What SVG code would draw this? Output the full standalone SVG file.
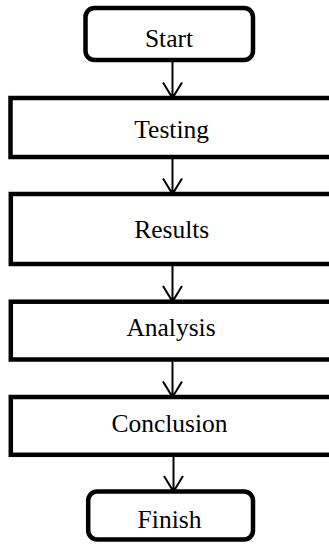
<svg xmlns="http://www.w3.org/2000/svg" width="329" height="546" viewBox="0 0 329 546">
<style>
.box{fill:#fff;stroke:#000;stroke-width:4.5}
.lbl{font-family:"Liberation Serif","Times New Roman",serif;font-size:25.5px;fill:#000;text-anchor:middle}
.conn{fill:none;stroke:#000;stroke-width:2}
</style>
<rect width="329" height="546" fill="#fff"/>
<g id="connectors">
<path class="conn" d="M172.5 62V98M163 82.5L172.5 98L182 82.5"/>
<path class="conn" d="M172.5 159V194M163 178.5L172.5 194L182 178.5"/>
<path class="conn" d="M172.5 266V301.5M163 286L172.5 301.5L182 286"/>
<path class="conn" d="M172.5 361.5V397M163 381.5L172.5 397L182 381.5"/>
<path class="conn" d="M173.5 457V491.5M164 476L173.5 491.5L183 476"/>
</g>
<g id="start">
<rect class="box" x="85.5" y="8" width="167.5" height="52" rx="9"/>
<text class="lbl" x="169" y="46.5">Start</text>
</g>
<g id="testing">
<rect class="box" x="10.5" y="98" width="330" height="59"/>
<text class="lbl" x="171.7" y="137.7">Testing</text>
</g>
<g id="results">
<rect class="box" x="10.8" y="194" width="330" height="70"/>
<text class="lbl" x="171.7" y="238.3">Results</text>
</g>
<g id="analysis">
<rect class="box" x="10.8" y="301.7" width="330" height="57.8"/>
<text class="lbl" x="171" y="335.7">Analysis</text>
</g>
<g id="conclusion">
<rect class="box" x="10.8" y="397" width="330" height="57.8"/>
<text class="lbl" x="169.5" y="431.7">Conclusion</text>
</g>
<g id="finish">
<rect class="box" x="88.2" y="491.5" width="164.8" height="48" rx="9"/>
<text class="lbl" x="169.5" y="528.3">Finish</text>
</g>
</svg>
